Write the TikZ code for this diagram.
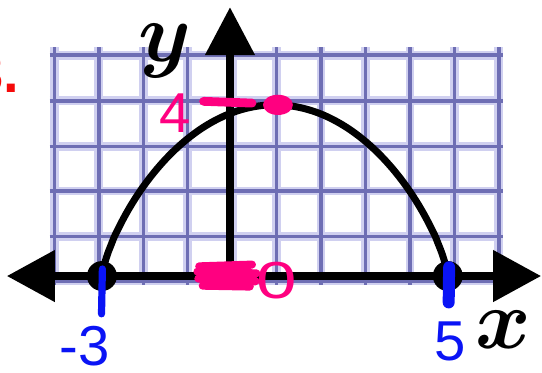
\documentclass[tikz,border=0pt]{standalone}
\usepackage{fontspec}
\usepackage{bm}
\usetikzlibrary{arrows.meta}
\newfontfamily\handfont{Liberation Sans}
\definecolor{gridcore}{RGB}{110,110,180}
\definecolor{gridglow}{RGB}{208,208,240}
\definecolor{inkpink}{RGB}{255,0,128}
\definecolor{inkblue}{RGB}{10,20,245}
\definecolor{inkred}{RGB}{245,10,10}

\begin{document}
\begin{tikzpicture}[
  x=1.1cm,y=1.1cm,
  line cap=round,
  line join=round,
  gridglowline/.style={draw=gridglow,line width=0.22cm,line cap=butt},
  gridline/.style={draw=gridcore,line width=0.085cm,line cap=butt},
  axis/.style={draw=black,line width=0.2cm},
  curve/.style={draw=black,line width=0.175cm},
  pinkmark/.style={draw=inkpink,line width=0.22cm},
  bluemark/.style={draw=inkblue,line width=0.18cm},
  hand/.style={font=\handfont\fontsize{40}{40}\selectfont,inner sep=0pt,
    text height=28.8pt,text depth=0pt},
  axislabel/.style={scale=6,inner sep=0pt}
]
\useasboundingbox (-5.227,-2.182) rectangle (7.091,6.273);

% grid paper
\foreach \k in {-4,...,6} \draw[gridglowline] (\k*1.01+0.05,-0.2) -- (\k*1.01+0.05,5.2);
\foreach \gy in {-0.11,0.9,1.93,2.95,3.98,5.02} \draw[gridglowline] (-4.1,\gy) -- (6.2,\gy);
\foreach \k in {-4,...,6} \draw[gridline] (\k*1.01+0.05,-0.2) -- (\k*1.01+0.05,5.2);
\foreach \gy in {-0.11,0.9,1.93,2.95,3.98,5.02} \draw[gridline] (-4.1,\gy) -- (6.2,\gy);

% key points
\coordinate (O) at (0,0);
\coordinate (xl) at (-5.07,0);
\coordinate (xr) at (7.07,0);
\coordinate (yt) at (0,6.11);
\coordinate (A) at (-2.91,0);
\coordinate (B) at (4.95,0);
\coordinate (V) at (1.02,3.89);

% the arch
\draw[curve] (A) -- plot[domain=-0.997:0.997,samples=121,smooth]
  ({1.02+3.93*\x},{3.89*(1-\x*\x)^0.75}) -- (B);

% axes
\draw[axis,{Triangle[length=1.2cm,width=1.25cm]}-{Triangle[length=1.2cm,width=1.25cm]}] (xl) -- (xr);
\draw[axis,-{Triangle[length=1.2cm,width=1.2cm]}] (O) -- (yt);
\node[axislabel] (ylab) at (-1.48,5.12) {$\bm{y}$};
\node[axislabel] (xlab) at (6.2,-1.23) {$\bm{x}$};

% x-intercepts
\fill (A) circle (0.34);
\fill (B) circle (0.34);

% blue notes
\draw[bluemark] (-2.9,0.16) -- (-2.92,-0.86);
\draw[bluemark,line width=0.3cm] (4.98,0.2) -- (4.97,-0.6);
\node[hand,text=inkblue] (lm3) at (-3.3,-1.58) {-3};
\node[hand,text=inkblue] (l5) at (5.0,-1.45) {5};

% pink notes
\node[hand,text=inkpink] (l4) at (-1.25,3.73) {4};
\draw[pinkmark] (-0.6,3.97) -- (0.5,3.93);
\fill[inkpink] (1.09,3.89) ellipse (0.34 and 0.23);
\draw[pinkmark,line width=0.2cm] (-0.7,0.22) -- (0.5,0.26) -- (-0.74,0.1) -- (0.6,0.06)
  -- (-0.72,-0.06) -- (0.58,-0.12) -- (-0.62,-0.22) -- (0.45,-0.24);
\node[hand,text=inkpink,font=\handfont\fontsize{37}{37}\selectfont,text height=26.6pt,
  xscale=1.4] (l0) at (1.07,-0.08) {0};

% problem number, cut at the left edge
\node[hand,text=inkred,font=\handfont\bfseries\fontsize{40}{40}\selectfont,anchor=base east] (num) at (-4.78,4.18) {3.};

\end{tikzpicture}
\end{document}
